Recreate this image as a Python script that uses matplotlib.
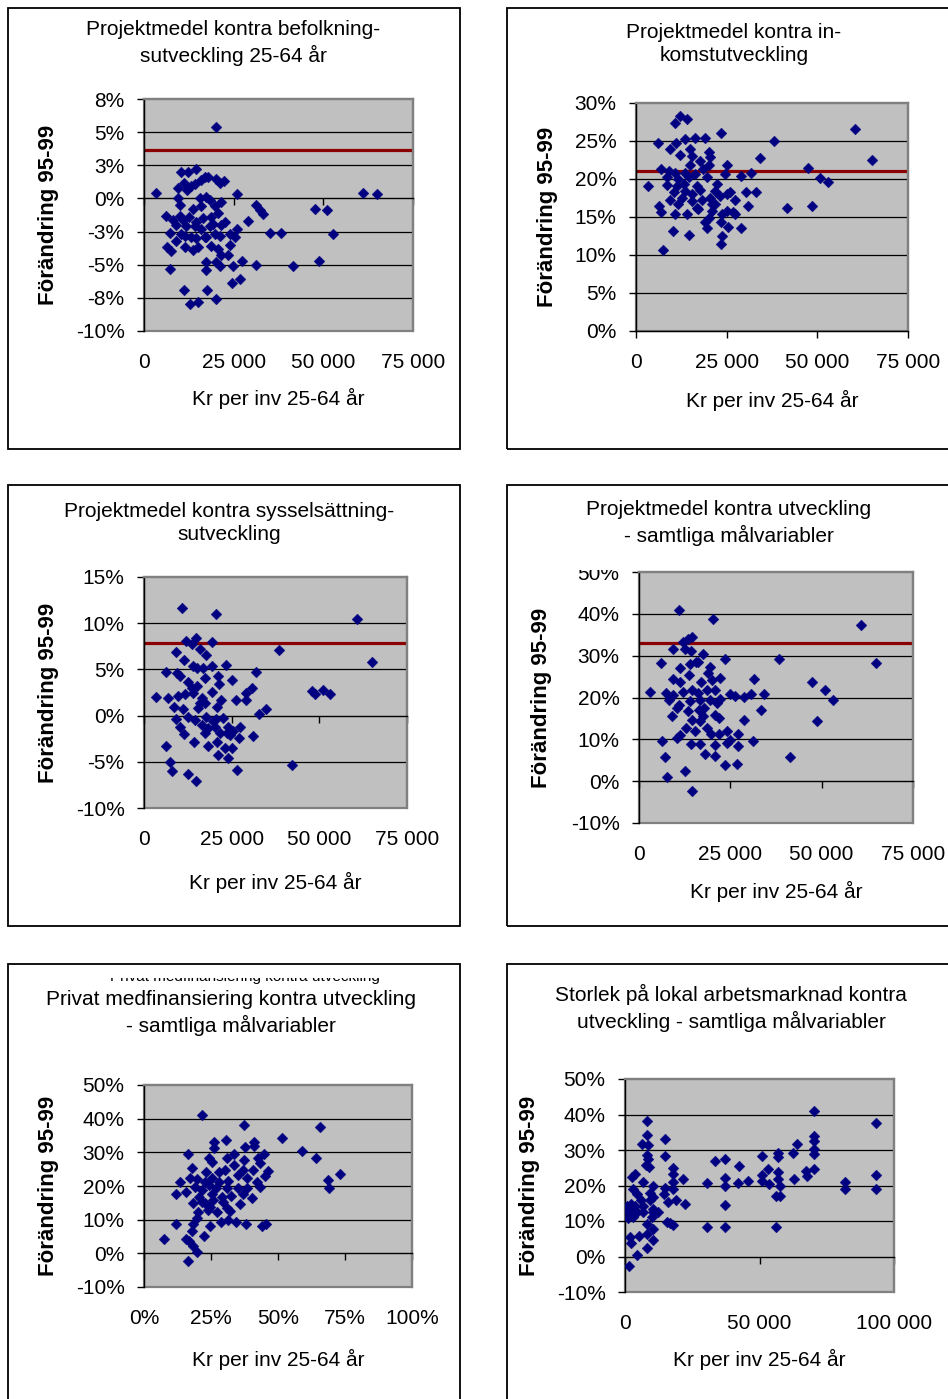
import numpy as np
import matplotlib
matplotlib.use("Agg")
import matplotlib.pyplot as plt
from matplotlib.patches import Rectangle

plt.rcParams['font.family'] = ['Liberation Sans', 'DejaVu Sans']
plt.rcParams['font.size'] = 15

W, H = 948, 1399

# ---- data (kr per inv 25-64 år, förändring 95-99 in %) ----
p1_x = [20000, 3400, 10400, 12300, 14400, 11100, 9500, 12000, 13200, 14100, 16000, 16900, 17900,
        20200, 22200, 21100, 25900, 17400, 9500, 15500, 18300, 9900, 13700, 16000, 19700, 21600,
        6000, 8100, 9900, 11000, 12500, 14600, 16500, 18800, 20600, 9000, 11800, 14100, 16000,
        18300, 22500, 21600, 31100, 32300, 33200, 29000, 7200, 11300, 17400, 21100, 23900, 25800,
        25300, 35000, 38300, 9000, 11300, 13700, 15100, 18800, 20600, 23900, 6400, 7600, 21600,
        23400, 20200, 17400, 21100, 24800, 27400, 31100, 7200, 17200, 41500, 48800, 47800, 51100,
        52700, 61100, 64900, 24400, 26700, 11100, 17700, 12700, 15100, 20000, 10400, 13200, 14600,
        19700, 19200, 16900]
p1_y = [5.4, 0.4, 2.0, 2.0, 2.2, 1.2, 0.8, 0.6, 0.9, 1.1, 1.4, 1.6, 1.6,
        1.5, 1.3, 1.2, 0.3, 0.1, 0.0, 0.0, -0.1, -0.5, -0.8, -0.6, -0.6, -0.3,
        -1.3, -1.6, -1.3, -1.6, -1.4, -1.8, -1.5, -1.4, -1.1, -2.0, -2.1, -2.1, -2.3,
        -2.1, -1.8, -2.0, -0.5, -0.9, -1.2, -1.7, -2.6, -2.8, -2.9, -2.8, -2.7, -2.3,
        -2.9, -2.6, -2.6, -3.2, -3.7, -3.9, -3.7, -3.6, -3.8, -3.5, -3.7, -4.0, -4.3,
        -4.3, -4.8, -4.8, -5.1, -5.1, -4.7, -5.0, -5.3, -5.4, -5.1, -4.7, -0.8, -0.9,
        -2.7, 0.4, 0.3, -6.4, -6.1, -6.9, -6.9, -8.0, -7.8, -7.6, -2.7, -2.9, -3.0,
        -2.7, -1.9, -2.9]
p1_ref = 3.65

p2_x = [12000, 10800, 14000, 6000, 9300, 11100, 13600, 16300, 19100, 23400, 38100, 60500, 65000,
        12200, 15000, 15400, 20000, 20400, 17700, 20000, 15000, 25000, 34300, 6900, 9000, 10800,
        13600, 16300, 8500, 11700, 14500, 19500, 24500, 28900, 31600, 47400, 50700, 52900, 3200,
        8500, 11300, 16800, 22300, 13600, 17700, 21800, 25900, 30300, 33100, 9400, 12600, 15400,
        18100, 20400, 23200, 25000, 27300, 6400, 11700, 16800, 20900, 31000, 41500, 48400, 6900,
        10800, 14000, 17200, 20900, 23600, 25000, 26800, 27300, 19100, 20000, 23400, 25500, 28900,
        19500, 10200, 14700, 23600, 23400, 7400, 21800, 13100, 15400, 10400, 18600]
p2_y = [28.3, 27.4, 27.9, 24.8, 24.0, 24.8, 25.2, 25.4, 25.4, 26.1, 25.0, 26.6, 22.5,
        23.2, 23.9, 23.0, 23.5, 22.9, 22.4, 21.9, 21.8, 21.9, 22.7, 21.3, 21.0, 20.8,
        20.8, 20.6, 20.2, 20.0, 20.2, 20.2, 20.6, 20.4, 20.8, 21.5, 20.1, 19.6, 19.1,
        19.2, 19.1, 19.1, 19.4, 18.4, 18.6, 18.4, 18.3, 18.3, 18.3, 17.3, 17.5, 17.1,
        17.3, 17.5, 17.8, 18.0, 17.2, 16.5, 16.7, 16.2, 16.7, 16.5, 16.2, 16.5, 15.7,
        15.4, 15.4, 16.0, 15.8, 15.4, 15.8, 15.7, 15.4, 14.4, 14.9, 14.3, 13.7, 13.6,
        13.6, 13.2, 12.6, 12.5, 11.4, 10.7, 16.7, 19.3, 18.0, 18.3, 21.3]
p2_ref = 21.0

p3_x = [10700, 20500, 60800, 64900, 38600, 12000, 14800, 19300, 13600, 16000, 17700, 9100, 11400,
        6300, 9300, 10400, 14100, 16700, 19300, 23400, 31900, 12600, 15000, 17400, 21200, 21500,
        25000, 19300, 14100, 30700, 29100, 3400, 6900, 9800, 11700, 16400, 22100, 26200, 29100,
        47800, 48800, 51100, 52900, 8600, 11200, 15500, 17400, 20900, 32900, 34800, 9100, 12600,
        14600, 17600, 20500, 22400, 10300, 11400, 16400, 18300, 20200, 24000, 25500, 27400, 17400,
        24500, 27200, 31200, 14300, 18300, 20900, 23100, 25000, 21000, 23900, 6300, 7400, 8100,
        12600, 14800, 26600, 42100, 15000, 13600, 16000, 19800, 21700, 23600]
p3_y = [11.6, 11.0, 10.5, 5.8, 7.1, 8.1, 8.4, 8.0, 7.7, 7.2, 6.6, 6.9, 6.0,
        4.7, 4.6, 4.3, 5.4, 5.2, 5.4, 5.5, 4.7, 3.6, 3.2, 4.1, 4.3, 3.4,
        3.8, 2.6, 2.5, 3.0, 2.5, 2.0, 1.9, 2.1, 2.3, 1.9, 1.7, 1.7, 1.7,
        2.7, 2.3, 2.8, 2.3, 0.9, 0.7, 0.8, 1.4, 0.9, 0.2, 0.7, -0.4, -0.1,
        -0.5, -0.1, -0.4, -0.3, -1.2, -2.0, -1.0, -1.3, -1.2, -1.2, -1.7, -1.2, -1.9,
        -2.1, -2.4, -2.2, -2.9, -3.3, -2.9, -3.5, -3.5, -4.3, -4.6, -3.3, -5.0, -6.0,
        -6.3, -7.1, -5.9, -5.4, 5.2, 3.0, 1.4, -0.6, -1.9, -1.9]
p3_ref = 7.9

p4_x = [11000, 20300, 60800, 65000, 38200, 23500, 12100, 14400, 13500, 12500, 14200, 9200, 5900,
        17400, 15700, 13900, 11300, 19400, 19000, 9200, 11300, 13700, 17100, 19900, 22100, 31600,
        3100, 7300, 9300, 12100, 14400, 16200, 20800, 24900, 26300, 28700, 30700, 34300, 47300,
        50800, 53000, 8200, 11000, 13900, 16700, 19400, 21400, 10400, 13500, 16500, 17800, 20800,
        22000, 33300, 8900, 14600, 16700, 17600, 28800, 48700, 13000, 15300, 18700, 19600, 22000,
        24200, 24900, 27200, 10400, 11300, 6400, 14100, 16800, 20800, 24000, 27200, 31100, 7000,
        18000, 20800, 41400, 12500, 7700, 23500, 26700, 14600, 16200, 22100, 18500]
p4_y = [41.0, 38.7, 37.3, 28.3, 29.2, 29.2, 33.3, 34.5, 34.0, 31.7, 31.0, 31.7, 28.3,
        30.3, 28.6, 27.9, 27.0, 27.4, 25.8, 24.4, 23.7, 25.4, 23.8, 24.2, 24.6, 24.4,
        21.2, 21.0, 20.6, 21.4, 21.8, 21.0, 21.8, 20.8, 20.4, 20.2, 20.8, 20.8, 23.6,
        21.7, 19.3, 19.4, 18.3, 19.2, 19.4, 19.4, 18.7, 17.5, 16.7, 17.1, 17.6, 15.9,
        15.2, 16.9, 15.5, 14.7, 14.3, 15.5, 14.7, 14.3, 12.7, 11.9, 12.7, 11.3, 11.3,
        12.1, 9.9, 11.3, 10.3, 11.1, 9.5, 9.0, 9.0, 8.7, 9.1, 8.3, 9.5, 5.7,
        6.5, 6.1, 5.7, 2.4, 1.0, 3.8, 4.2, -2.4, 28.4, 19.7, 21.8]
p4_ref = 33.1

# privat medfinansiering (%) vs förändring
p5_x = [21.5, 37.4, 65.5, 51.4, 58.9, 64.1, 73.0, 68.6, 69.2, 30.5, 26.2, 26.2, 37.7,
        41.1, 41.1, 16.6, 24.4, 25.3, 31.1, 33.6, 37.4, 42.7, 44.6, 43.3, 17.8, 23.2,
        27.8, 30.3, 33.4, 37.1, 40.8, 46.1, 45.2, 17.2, 13.4, 19.7, 22.8, 25.3, 28.1,
        31.4, 34.9, 38.4, 42.1, 19.2, 21.7, 24.4, 26.9, 31.1, 34.9, 38.6, 43.1, 11.8,
        15.7, 20.7, 25.3, 29.0, 32.4, 37.1, 40.2, 18.4, 22.8, 24.7, 29.6, 35.9, 31.1,
        20.3, 23.7, 27.4, 32.1, 19.7, 28.6, 31.5, 34.2, 38.1, 44.0, 45.6, 11.9, 24.7,
        18.4, 17.8, 22.4, 15.7, 16.9, 18.4, 19.7, 7.5, 16.6, 21.5, 25.9]
p5_y = [41.1, 38.1, 37.6, 34.2, 30.4, 28.2, 23.6, 21.8, 19.3, 33.7, 33.2, 31.2, 31.7,
        33.2, 31.9, 29.4, 28.4, 27.0, 28.2, 29.4, 27.7, 28.4, 29.4, 26.7, 25.4, 24.3,
        24.3, 24.8, 26.2, 24.8, 24.8, 24.5, 23.1, 22.3, 21.3, 22.1, 21.3, 22.3, 21.1,
        21.5, 23.3, 22.3, 21.1, 19.8, 18.8, 20.3, 19.3, 19.3, 19.5, 19.3, 19.8, 17.6,
        18.3, 16.8, 17.5, 16.8, 17.1, 17.5, 16.3, 14.9, 14.9, 13.9, 15.3, 14.6, 13.6,
        12.4, 12.9, 12.2, 12.6, 10.6, 9.4, 9.9, 9.4, 8.6, 8.2, 8.7, 8.7, 8.2,
        8.6, 6.6, 5.1, 4.2, 3.7, 2.3, 0.5, 4.2, -2.3, 15.3, 15.8]

# storlek på lokal arbetsmarknad vs förändring
p6_x = [8300, 8300, 6200, 8400, 14900, 8000, 8700, 14900, 7800, 9000, 3700, 2500, 17700,
        18000, 21700, 6600, 10500, 3100, 14900, 18000, 4300, 9300, 14600, 18000, 5800, 9300,
        10500, 16100, 18900, 22300, 600, 2100, 3700, 1200, 2800, 4300, 6800, 1200, 3100,
        10300, 12400, 9900, 8000, 10500, 15500, 18000, 16700, 5300, 1900, 8300, 10500, 2100,
        8300, 4600, 1600, 30300, 33400, 37100, 37100, 37100, 37100, 30300, 37100, 42300, 42100,
        45800, 51100, 50800, 50800, 53200, 53600, 57000, 57000, 57000, 57000, 57800, 56000, 57800,
        56300, 62500, 63800, 62800, 67200, 67500, 70400, 70400, 70400, 70400, 70400, 70400, 81700,
        81700, 93200, 93200, 93200, 10500, 6800]
p6_y = [38.2, 34.3, 31.6, 31.3, 33.2, 28.7, 27.5, 28.2, 25.8, 25.2, 23.3, 22.4, 24.9,
        23.3, 21.9, 20.9, 20.0, 19.1, 19.2, 20.9, 17.6, 17.9, 17.6, 19.1, 15.8, 15.8,
        16.7, 15.3, 15.8, 14.8, 14.2, 14.8, 14.3, 12.5, 12.9, 12.5, 12.6, 10.8, 11.0,
        12.5, 12.5, 11.0, 9.2, 7.7, 9.6, 8.9, 9.4, 5.8, 5.4, 6.3, 4.7, 3.8,
        2.3, 0.4, -2.6, 20.8, 26.9, 27.4, 22.1, 20.0, 14.5, 8.4, 8.4, 25.4, 20.8,
        21.4, 28.3, 23.0, 21.4, 24.7, 20.5, 29.2, 28.0, 23.8, 21.9, 20.0, 17.0, 17.0,
        8.4, 29.2, 31.6, 21.9, 24.0, 22.8, 41.0, 33.9, 32.5, 30.2, 29.0, 24.7, 20.9,
        19.1, 37.6, 23.0, 19.1, 13.4, 14.3]

kr_ticks = [0, 25000, 50000, 75000]
kr_labels = ['0', '25 000', '50 000', '75 000']
p6_ticks = [0, 50000, 100000]
p6_labels = ['0', '50 000', '100 000']
p5_ticks = [0, 25, 50, 75, 100]
p5_labels = ['0%', '25%', '50%', '75%', '100%']

p1_yticks = [-10, -7.5, -5, -2.5, 0, 2.5, 5, 7.5]
p1_ylabels = ['-10%', '-8%', '-5%', '-3%', '0%', '3%', '5%', '8%']
p2_yticks = [0, 5, 10, 15, 20, 25, 30]
p3_yticks = [-10, -5, 0, 5, 10, 15]
big_yticks = [-10, 0, 10, 20, 30, 40, 50]


def pct(ticks):
    return ['%d%%' % t for t in ticks]


fig = plt.figure(figsize=(W / 100, H / 100), dpi=100)


def rect(x0, y0, x1, y1, **kw):
    # pixel box (y from top) -> figure rectangle
    r = Rectangle((x0 / W, 1 - y1 / H), (x1 - x0) / W, (y1 - y0) / H,
                  transform=fig.transFigure, **kw)
    fig.add_artist(r)
    return r


def panel(fr, pa, title, tpos, ylab_x, xlab_y, xs, ys, xlim, xt, xl, ylim, yt, yl, ref=None):
    rect(*fr, fill=False, ec='black', lw=1.3)
    x0, y0, x1, y1 = pa
    ax = fig.add_axes([x0 / W, 1 - y1 / H, (x1 - x0) / W, (y1 - y0) / H])
    ax.set_facecolor('#C0C0C0')
    ax.patch.set_edgecolor('#808080')
    ax.patch.set_linewidth(1.6)
    ax.set_xlim(xlim)
    ax.set_ylim(ylim)
    for t in yt:
        if ylim[0] < t < ylim[1] and t != 0:
            ax.axhline(t, color='black', lw=0.9, zorder=1)
    for s in ['top', 'right']:
        ax.spines[s].set_color('#808080')
        ax.spines[s].set_linewidth(1.6)
    ax.spines['left'].set_color('black')
    ax.spines['left'].set_linewidth(1.0)
    ax.spines['bottom'].set_position(('data', 0))
    ax.spines['bottom'].set_color('black')
    ax.spines['bottom'].set_linewidth(1.0)
    ax.set_yticks(yt, yl)
    ax.set_xticks(xt)
    ax.tick_params(axis='y', direction='out', length=5, width=1, pad=9)
    ax.tick_params(axis='x', direction='out', length=5, width=1, labelbottom=False)
    sec = ax.secondary_xaxis('bottom')
    sec.set_xticks(xt, xl)
    sec.tick_params(length=0, pad=16)
    sec.spines['bottom'].set_visible(False)
    if ref is not None:
        ax.axhline(ref, color='#8B0000', lw=2.3, zorder=2)
    ax.scatter(xs, ys, marker='D', s=30, c='#000080', edgecolors='#000080',
               linewidths=0.3, zorder=3)
    fig.text(tpos[0] / W, 1 - tpos[1] / H, title, ha='center', va='center', linespacing=1.3)
    fig.text(ylab_x / W, 1 - (y0 + y1) / 2 / H, 'Förändring 95-99', rotation=90,
             fontweight='bold', fontsize=16, ha='center', va='center')
    fig.text((x0 + x1) / 2 / W, 1 - xlab_y / H, 'Kr per inv 25-64 år', ha='center', va='center')
    return ax


panel((8, 8, 460, 449), (144, 99, 413, 331),
      'Projektmedel kontra befolkning-\nsutveckling 25-64 år', (233, 43), 49, 398,
      p1_x, p1_y, (0, 75000), kr_ticks, kr_labels, (-10, 7.5), p1_yticks, p1_ylabels, p1_ref)

panel((507, 8, 962, 449), (636, 103, 908, 331),
      'Projektmedel kontra in-\nkomstutveckling', (734, 44), 548, 400,
      p2_x, p2_y, (0, 75000), kr_ticks, kr_labels, (0, 30), p2_yticks, pct(p2_yticks), p2_ref)

panel((8, 485, 460, 926), (144, 577, 407, 808),
      'Projektmedel kontra sysselsättning-\nsutveckling', (229, 523), 49, 882,
      p3_x, p3_y, (0, 75000), kr_ticks, kr_labels, (-10, 15), p3_yticks, pct(p3_yticks), p3_ref)

panel((507, 485, 962, 926), (639, 572, 913, 823),
      'Projektmedel kontra utveckling\n- samtliga målvariabler', (729, 523), 541, 891,
      p4_x, p4_y, (0, 75000), kr_ticks, kr_labels, (-10, 50), big_yticks, pct(big_yticks), p4_ref)

panel((8, 964, 460, 1405), (144, 1085, 412, 1287),
      'Privat medfinansiering kontra utveckling\n- samtliga målvariabler', (231, 1013), 49, 1359,
      p5_x, p5_y, (0, 100), p5_ticks, p5_labels, (-10, 50), big_yticks, pct(big_yticks))

panel((507, 964, 962, 1405), (625, 1079, 894, 1292),
      'Storlek på lokal arbetsmarknad kontra\nutveckling - samtliga målvariabler', (731, 1008), 530, 1359,
      p6_x, p6_y, (0, 100000), p6_ticks, p6_labels, (-10, 50), big_yticks, pct(big_yticks))

# remains of an older title above panel 5, only its bottom edge shows
fig.text(245 / W, 1 - 981 / H, 'Privat medfinansiering kontra utveckling',
         ha='center', va='baseline', fontsize=11, zorder=1)
rect(12, 966, 456, 978, fc='white', ec='none', zorder=10)
# top half of the 50% label in panel 4 is cut off
rect(560, 555, 632, 570, fc='white', ec='none', zorder=10)

fig.savefig('out.png', dpi=100)
